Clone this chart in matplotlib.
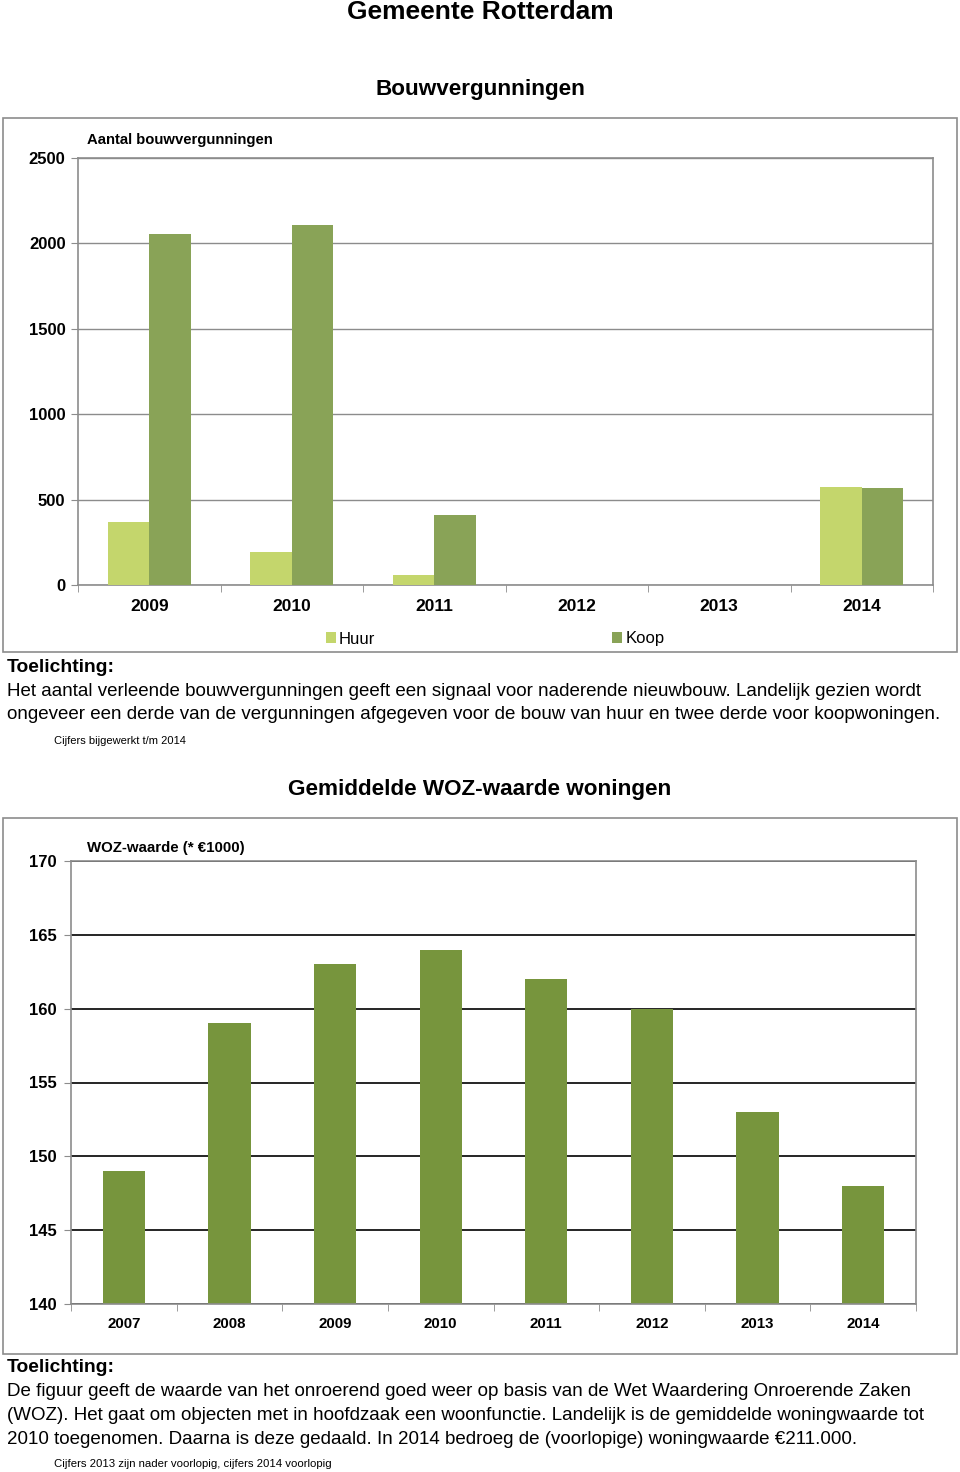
import matplotlib.pyplot as plt
from matplotlib.patches import Rectangle
import numpy as np

plt.rcParams['font.family'] = ['Liberation Sans', 'DejaVu Sans']

# Bouwvergunningen
jaren1 = ['2009', '2010', '2011', '2012', '2013', '2014']
huur = [369, 193, 59, 0, 0, 574]
koop = [2055, 2108, 410, 0, 0, 568]

# WOZ-waarde
jaren2 = ['2007', '2008', '2009', '2010', '2011', '2012', '2013', '2014']
woz = [149, 159, 163, 164, 162, 160, 153, 148]

W, H = 960, 1472
fig = plt.figure(figsize=(W / 100, H / 100), dpi=100)


def fx(x):
    return x / W


def fy(y):
    # tekst komt met va='center' iets te hoog uit, dus 2 px omlaag
    return 1 - (y + 2) / H


def fyb(y):
    return 1 - y / H


def box(x0, y0, x1, y1):
    # kader om de grafiek, in pixels
    fig.patches.append(Rectangle((fx(x0), fyb(y1)), fx(x1) - fx(x0), fyb(y0) - fyb(y1),
                                 transform=fig.transFigure, fill=False,
                                 edgecolor='#8c8c8c', linewidth=1.2))


def axes_px(x0, y0, x1, y1):
    return fig.add_axes([fx(x0), fyb(y1), fx(x1) - fx(x0), fyb(y0) - fyb(y1)])


fig.text(0.5, fy(10), 'Gemeente Rotterdam', ha='center', va='center',
         fontsize=19, fontweight='bold')
fig.text(0.5, fy(87), 'Bouwvergunningen', ha='center', va='center',
         fontsize=16.2, fontweight='bold')

# ---- grafiek 1 ----
box(3, 118, 957, 652)
ax1 = axes_px(78, 158, 933, 585)
x = np.arange(len(jaren1))
bw = 0.29
ax1.bar(x - bw / 2, huur, bw, color='#c4d66c', label='Huur', zorder=3)
ax1.bar(x + bw / 2, koop, bw, color='#89a357', label='Koop', zorder=3)
ax1.set_xlim(-0.5, len(jaren1) - 0.5)
ax1.set_ylim(0, 2500)
ax1.set_yticks(range(0, 2501, 500))
ax1.yaxis.grid(True, color='#8c8c8c', linewidth=1)
ax1.set_axisbelow(True)
ax1.set_xticks(x)
ax1.set_xticklabels(jaren1, fontsize=12.5, fontweight='bold')
ax1.set_xticks(np.arange(-0.5, len(jaren1)), minor=True)
ax1.tick_params(axis='x', which='major', length=0, pad=10)
ax1.tick_params(axis='x', which='minor', length=5, color='#8c8c8c')
ax1.tick_params(axis='y', length=5, color='#8c8c8c', pad=4)
for lab in ax1.get_yticklabels():
    lab.set_fontsize(12)
    lab.set_fontweight('bold')
for s in ax1.spines.values():
    s.set_color('#8c8c8c')
    s.set_linewidth(1.2)
fig.text(fx(87), fy(138), 'Aantal bouwvergunningen', ha='left', va='center',
         fontsize=10.7, fontweight='bold')
ax1.legend(loc='center', bbox_to_anchor=(fx(495), fy(637)), bbox_transform=fig.transFigure,
           ncol=2, frameon=False, fontsize=12, handlelength=0.6, handleheight=0.6,
           handletextpad=0.2, columnspacing=14.2)

fig.text(fx(7), fy(666), 'Toelichting:', ha='left', va='center', fontsize=13.9, fontweight='bold')
fig.text(fx(7), fy(689), 'Het aantal verleende bouwvergunningen geeft een signaal voor naderende nieuwbouw. '
         'Landelijk gezien wordt', ha='left', va='center', fontsize=13.5)
fig.text(fx(7), fy(713), 'ongeveer een derde van de vergunningen afgegeven voor de bouw van huur en twee '
         'derde voor koopwoningen.', ha='left', va='center', fontsize=13.5)
fig.text(fx(54), fy(739), 'Cijfers bijgewerkt t/m 2014', ha='left', va='center', fontsize=8)

fig.text(0.5, fy(788), 'Gemiddelde WOZ-waarde woningen', ha='center', va='center',
         fontsize=16.2, fontweight='bold')

# ---- grafiek 2 ----
box(3, 818, 957, 1354)
ax2 = axes_px(71, 861, 916, 1304)
x2 = np.arange(len(jaren2))
ax2.bar(x2, woz, 0.4, color='#77953d', zorder=3)
ax2.set_xlim(-0.5, len(jaren2) - 0.5)
ax2.set_ylim(140, 170)
ax2.set_yticks(range(140, 171, 5))
ax2.yaxis.grid(True, color='black', linewidth=1.2)
ax2.set_axisbelow(True)
ax2.set_xticks(x2)
ax2.set_xticklabels(jaren2, fontsize=10.8, fontweight='bold')
ax2.set_xticks(np.arange(-0.5, len(jaren2)), minor=True)
ax2.tick_params(axis='x', which='major', length=0, pad=9)
ax2.tick_params(axis='x', which='minor', length=5, color='#8c8c8c')
ax2.tick_params(axis='y', length=5, color='#8c8c8c', pad=5.5)
for lab in ax2.get_yticklabels():
    lab.set_fontsize(12)
    lab.set_fontweight('bold')
for s in ax2.spines.values():
    s.set_color('#8c8c8c')
    s.set_linewidth(1.2)
    s.set_zorder(4)
fig.text(fx(87), fy(846), 'WOZ-waarde (* €1000)', ha='left', va='center',
         fontsize=10.8, fontweight='bold')

fig.text(fx(7), fy(1366), 'Toelichting:', ha='left', va='center', fontsize=13.9, fontweight='bold')
fig.text(fx(7), fy(1390), 'De figuur geeft de waarde van het onroerend goed weer op basis van de Wet '
         'Waardering Onroerende Zaken', ha='left', va='center', fontsize=13.5)
fig.text(fx(7), fy(1413), '(WOZ). Het gaat om objecten met in hoofdzaak een woonfunctie. Landelijk is de '
         'gemiddelde woningwaarde tot', ha='left', va='center', fontsize=13.5)
fig.text(fx(7), fy(1437), '2010 toegenomen. Daarna is deze gedaald. In 2014 bedroeg de (voorlopige) '
         'woningwaarde €211.000.', ha='left', va='center', fontsize=13.5)
fig.text(fx(54), fy(1462), 'Cijfers 2013 zijn nader voorlopig, cijfers 2014 voorlopig',
         ha='left', va='center', fontsize=8.2)

fig.savefig('out.png', dpi=100)
